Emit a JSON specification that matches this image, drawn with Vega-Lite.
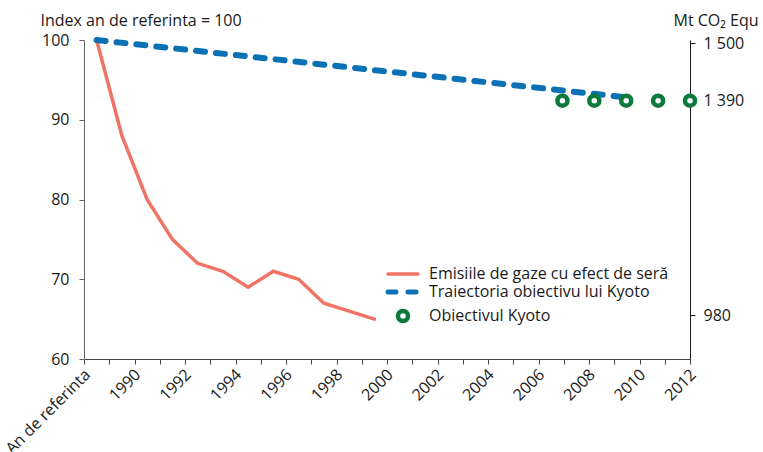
{
  "$schema": "https://vega.github.io/schema/vega-lite/v6.json",
  "width": 606,
  "height": 319,
  "autosize": {"type": "none"},
  "padding": {"left": 84, "top": 40, "right": 73, "bottom": 93},
  "config": {
    "font": "Open Sans",
    "view": {"stroke": null},
    "axis": {
      "labelFont": "Open Sans",
      "labelFontSize": 16,
      "labelColor": "#1a1a1a",
      "titleFont": "Open Sans",
      "titleFontSize": 16,
      "titleFontWeight": "normal",
      "titleColor": "#1a1a1a",
      "grid": false,
      "tickSize": 5
    },
    "legend": {"labelFont": "Open Sans", "labelFontSize": 16, "labelColor": "#1a1a1a", "labelLimit": 400}
  },
  "datasets": {
    "emisii": [
      {"an": "An de referinta", "serie": "Emisiile de gaze cu efect de seră", "valoare": 100},
      {"an": "1990", "serie": "Emisiile de gaze cu efect de seră", "valoare": 88},
      {"an": "1991", "serie": "Emisiile de gaze cu efect de seră", "valoare": 80},
      {"an": "1992", "serie": "Emisiile de gaze cu efect de seră", "valoare": 75},
      {"an": "1993", "serie": "Emisiile de gaze cu efect de seră", "valoare": 72},
      {"an": "1994", "serie": "Emisiile de gaze cu efect de seră", "valoare": 71},
      {"an": "1995", "serie": "Emisiile de gaze cu efect de seră", "valoare": 69},
      {"an": "1996", "serie": "Emisiile de gaze cu efect de seră", "valoare": 71},
      {"an": "1997", "serie": "Emisiile de gaze cu efect de seră", "valoare": 70},
      {"an": "1998", "serie": "Emisiile de gaze cu efect de seră", "valoare": 67},
      {"an": "1999", "serie": "Emisiile de gaze cu efect de seră", "valoare": 66},
      {"an": "2000", "serie": "Emisiile de gaze cu efect de seră", "valoare": 65}
    ],
    "traiectorie": [
      {"an": "An de referinta", "serie": "Traiectoria obiectivu lui Kyoto", "valoare": 100},
      {"an": "2010", "serie": "Traiectoria obiectivu lui Kyoto", "valoare": 92.8}
    ],
    "obiectiv": [
      {"an": 2008, "serie": "Obiectivul Kyoto", "mt": 1390},
      {"an": 2009, "serie": "Obiectivul Kyoto", "mt": 1390},
      {"an": 2010, "serie": "Obiectivul Kyoto", "mt": 1390},
      {"an": 2011, "serie": "Obiectivul Kyoto", "mt": 1390},
      {"an": 2012, "serie": "Obiectivul Kyoto", "mt": 1390}
    ]
  },
  "layer": [
    {
      "encoding": {
        "x": {
          "field": "an",
          "type": "nominal",
          "scale": {
            "type": "band",
            "paddingInner": 0,
            "paddingOuter": 0,
            "domain": ["An de referinta", "1990", "1991", "1992", "1993", "1994", "1995", "1996", "1997", "1998", "1999", "2000", "2001", "2002", "2003", "2004", "2005", "2006", "2007", "2008", "2009", "2010", "2011", "2012"]
          },
          "axis": {
            "title": null,
            "tickBand": "extent",
            "labelAngle": -45,
            "labelAlign": "right",
            "labelBaseline": "top",
            "labelPadding": 2,
            "labelOverlap": false,
            "labelExpr": "datum.value == 'An de referinta' || toNumber(datum.value) % 2 == 0 ? datum.value : ''",
            "labelOffset": {"condition": {"test": "datum.value == 'An de referinta'", "value": -15}, "value": 10},
            "domainColor": "#444444",
            "tickColor": "#444444"
          }
        },
        "y": {
          "field": "valoare",
          "type": "quantitative",
          "scale": {"domain": [60, 100], "nice": false, "zero": false},
          "axis": {
            "values": [60, 70, 80, 90, 100],
            "title": "Index an de referinta = 100",
            "titleAngle": 0,
            "titleAlign": "left",
            "titleBaseline": "alphabetic",
            "titleX": -44,
            "titleY": -15,
            "labelPadding": 10,
            "domainColor": "#666666",
            "tickColor": "#666666"
          }
        },
        "color": {
          "field": "serie",
          "type": "nominal",
          "scale": {
            "domain": ["Emisiile de gaze cu efect de seră", "Traiectoria obiectivu lui Kyoto", "Obiectivul Kyoto"],
            "range": ["#F07466", "#0A71B5", "#0B7A3B"]
          },
          "legend": {
            "title": null,
            "orient": "none",
            "legendX": 311,
            "legendY": 226,
            "padding": 0,
            "symbolType": "stroke",
            "symbolSize": 900,
            "symbolStrokeWidth": 4,
            "labelOffset": 18,
            "labelLimit": 400,
            "rowPadding": 0,
            "labelFontSize": 16,
            "encode": {
              "symbols": {
                "update": {
                  "shape": {"signal": "datum.value === 'Obiectivul Kyoto' ? 'circle' : 'stroke'"},
                  "size": {"signal": "datum.value === 'Obiectivul Kyoto' ? 100 : 900"},
                  "strokeWidth": {"signal": "datum.value === 'Obiectivul Kyoto' ? 4.5 : (datum.value === 'Traiectoria obiectivu lui Kyoto' ? 5 : 3.5)"},
                  "strokeDash": {"signal": "datum.value === 'Traiectoria obiectivu lui Kyoto' ? [8, 12] : null"},
                  "strokeCap": {"value": "round"},
                  "fill": {"value": "white"},
                  "opacity": {"value": 1}
                }
              }
            }
          }
        }
      },
      "layer": [
        {
          "data": {"name": "emisii"},
          "mark": {"type": "line", "strokeWidth": 3.5, "strokeCap": "round"}
        },
        {
          "data": {"name": "traiectorie"},
          "mark": {"type": "line", "strokeWidth": 6, "strokeDash": [9, 11], "strokeCap": "round"}
        }
      ]
    },
    {
      "data": {"name": "obiectiv"},
      "mark": {"type": "point", "shape": "circle", "filled": false, "fill": "white", "strokeWidth": 4.5, "size": 100, "opacity": 1},
      "encoding": {
        "x": {
          "field": "an",
          "type": "quantitative",
          "scale": {"domain": [1993, 2012], "nice": false, "zero": false},
          "axis": null
        },
        "y": {
          "field": "mt",
          "type": "quantitative",
          "scale": {"domain": [896, 1506], "nice": false, "zero": false},
          "axis": {
            "orient": "right",
            "values": [980, 1390, 1500],
            "labelExpr": "datum.value >= 1000 ? replace(format(datum.value, ','), ',', ' ') : datum.label",
            "title": "Mt CO₂ Equ",
            "titleAngle": 0,
            "titleAlign": "right",
            "titleBaseline": "alphabetic",
            "titleX": 68,
            "titleY": -15,
            "labelPadding": 8,
            "domainColor": "#1a1a1a",
            "tickColor": "#1a1a1a"
          }
        },
        "color": {
          "field": "serie",
          "type": "nominal",
          "scale": {
            "domain": ["Emisiile de gaze cu efect de seră", "Traiectoria obiectivu lui Kyoto", "Obiectivul Kyoto"],
            "range": ["#F07466", "#0A71B5", "#0B7A3B"]
          }
        }
      }
    }
  ],
  "resolve": {"scale": {"x": "independent", "y": "independent"}}
}
